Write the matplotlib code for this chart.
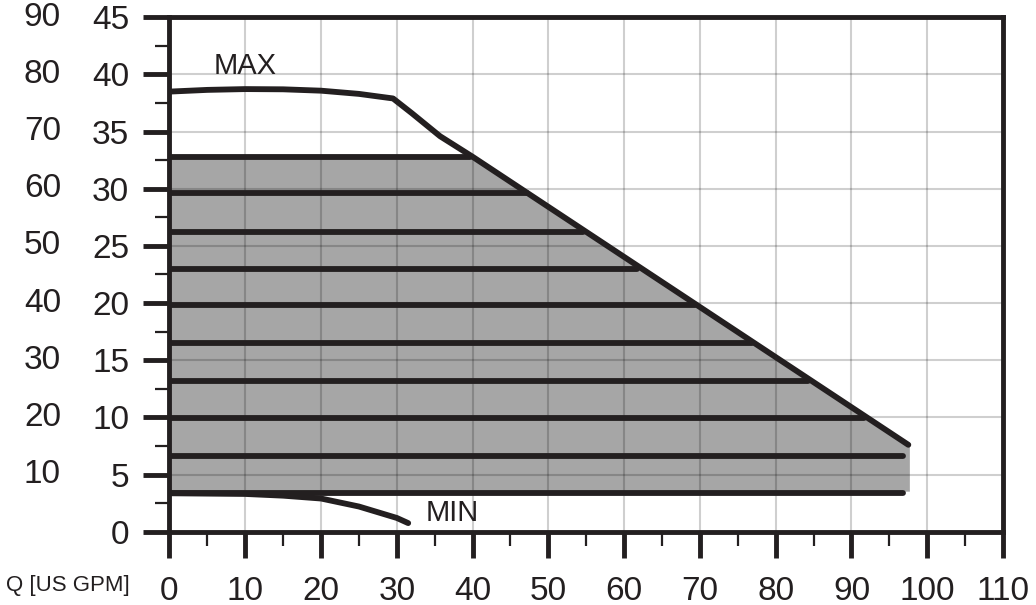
import numpy as np
import matplotlib
matplotlib.use("Agg")
import matplotlib.pyplot as plt
import matplotlib.transforms as mtransforms

plt.rcParams['font.family'] = ['Liberation Sans', 'DejaVu Sans']

# flow [US GPM] / head [m]
max_q = [0, 5, 10, 15, 20, 25, 29.5, 32, 35.7, 40, 97.5]
max_h = [38.5, 38.65, 38.72, 38.7, 38.58, 38.3, 37.9, 36.6, 34.6, 32.8, 7.6]

min_q = [0, 10, 15, 20, 25, 30, 31.5]
min_h = [3.36, 3.3, 3.15, 2.9, 2.2, 1.2, 0.75]

# horizontal speed steps inside the shaded area
step_h = [3.36, 6.62, 9.92, 13.18, 16.54, 19.83, 22.96, 26.25, 29.61, 32.81]
step_end = [96.8, 96.8, 91.6, 84.3, 76.9, 69.3, 61.7, 54.6, 47.2, 39.7]

# shaded working range
fill_q = [0, 39.9, 97.7, 97.7, 0]
fill_h = [32.81, 32.81, 7.6, 3.5, 3.5]

x_ticks = list(range(0, 111, 10))
m_ticks = list(range(0, 46, 5))
ft_labels = [str(2 * v) for v in m_ticks]  # outer column

fig = plt.figure(figsize=(10.36, 6.05), dpi=100)
ax = fig.add_axes([0.1636, 0.1212, 0.8046, 0.8502])

ax.fill(fill_q, fill_h, color='#a6a6a6', lw=0, zorder=1)

lw = 4.2
for h, e in zip(step_h, step_end):
    ax.plot([0, e], [h, h], color='#231f20', lw=lw, solid_capstyle='round', zorder=3)
ax.plot(max_q, max_h, color='#231f20', lw=lw, solid_capstyle='round', zorder=3)
ax.plot(min_q, min_h, color='#231f20', lw=lw, solid_capstyle='round', zorder=3)

ax.text(10, 40.7, 'MAX', fontsize=21, ha='center', va='center', color='#231f20')
ax.text(37.3, 1.6, 'MIN', fontsize=21, ha='center', va='center', color='#231f20')

ax.set_xlim(0, 110)
ax.set_ylim(0, 45)
ax.set_xticks(x_ticks)
ax.set_xticks(np.arange(5, 110, 10), minor=True)
ax.set_yticks(m_ticks)
ax.set_yticks(np.arange(2.5, 45, 5), minor=True)

ax.grid(True, which='major', color='black', alpha=0.19, lw=1.5)

for s in ax.spines.values():
    s.set_linewidth(3.5)
    s.set_color('#231f20')

ax.tick_params(which='major', length=19, width=3.5, color='#231f20',
               labelsize=24, labelcolor='#231f20')
ax.tick_params(which='minor', length=10, width=1.6, color='#231f20')
ax.tick_params(axis='y', which='major', pad=10)
ax.tick_params(axis='x', which='major', pad=13)

# outer left column of labels
trans = mtransforms.blended_transform_factory(ax.transAxes, ax.transData)
off = mtransforms.ScaledTranslation(-108.5 / 100, 0, fig.dpi_scale_trans)
for v, lab in zip(m_ticks, ft_labels):
    if v == 0:
        continue
    ax.text(0, v, lab, transform=trans + off, ha='right', va='center',
            fontsize=24, color='#231f20')

fig.text(130 / 1036, 1 - 585 / 605, 'Q [US GPM]', ha='right', va='center',
         fontsize=16, color='#231f20')

fig.savefig('out.png', dpi=100)
